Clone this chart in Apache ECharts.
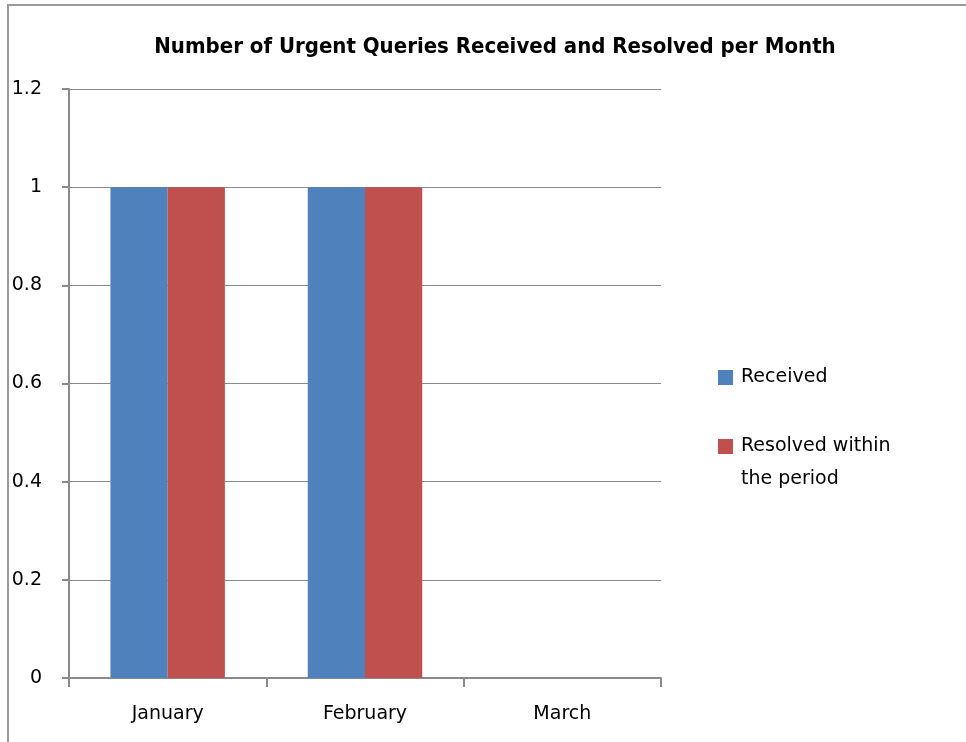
<!DOCTYPE html>
<html>
<head>
<meta charset="utf-8">
<script src="https://cdn.jsdelivr.net/npm/echarts@6/dist/echarts.min.js"></script>
<style>
  html, body { margin: 0; padding: 0; background: #fff; }
  #chart { width: 966px; height: 742px; }
</style>
</head>
<body>
<div id="chart"></div>
<script>
'use strict';

/*-----------------------------------------------
|   Data
-----------------------------------------------*/
const months = ['January', 'February', 'March'];
const received = [1, 1, 0];
const resolved = [1, 1, 0];
const seriesNames = ['Received', 'Resolved within the period'];

const chart = echarts.init(document.getElementById('chart'));
const labelFont = 'DejaVu Sans';
const axisGray = '#8a8a8a';

chart.setOption({
  animation: false,
  title: {
    text: 'Number of Urgent Queries Received and Resolved per Month',
    left: 490,
    textAlign: 'center',
    top: 31,
    textStyle: {
      fontFamily: '"DejaVu Sans Condensed", "Liberation Sans", sans-serif',
      fontWeight: 'bold',
      fontSize: 22,
      color: '#000'
    }
  },
  graphic: [
    // outer chart border (top and left edges only are visible)
    {
      type: 'polyline',
      shape: { points: [[8, 742], [8, 5], [966, 5]] },
      style: { stroke: '#9a9a9a', lineWidth: 2, fill: null }
    }
  ],
  legend: [
    {
      data: [{ name: seriesNames[0], textStyle: { padding: [0, 0, 0, 3] } }],
      left: 713,
      top: 363,
      icon: 'rect',
      itemWidth: 15,
      itemHeight: 15,
      textStyle: { fontFamily: labelFont, fontSize: 19, color: '#000' }
    },
    {
      data: [{ name: seriesNames[1], textStyle: { padding: [0, 0, 0, 3] } }],
      left: 713,
      top: 392,
      icon: 'rect',
      itemWidth: 15,
      itemHeight: 15,
      // blank first line keeps the first text line level with the icon
      formatter: () => ' \nResolved within\nthe period',
      textStyle: { fontFamily: labelFont, fontSize: 19, lineHeight: 33, color: '#000' }
    }
  ],
  grid: { left: 69, right: 305, top: 89, bottom: 64, containLabel: false },
  xAxis: {
    type: 'category',
    data: months,
    axisLine: { lineStyle: { color: axisGray, width: 2 } },
    axisTick: { show: true, length: 9, lineStyle: { color: axisGray, width: 2 } },
    axisLabel: { margin: 27, fontFamily: labelFont, fontSize: 19, color: '#000' }
  },
  yAxis: {
    type: 'value',
    min: 0,
    max: 1.2,
    interval: 0.2,
    axisLine: { show: true, lineStyle: { color: axisGray, width: 2 } },
    axisTick: { show: true, length: 7, lineStyle: { color: axisGray, width: 2 } },
    axisLabel: { margin: 27, fontFamily: labelFont, fontSize: 19, color: '#000' },
    splitLine: { lineStyle: { color: axisGray, width: 1 } }
  },
  series: [
    {
      name: seriesNames[0],
      type: 'bar',
      data: received,
      barGap: '0%',
      barCategoryGap: '42%',
      itemStyle: { color: '#4F81BD' }
    },
    {
      name: seriesNames[1],
      type: 'bar',
      data: resolved,
      barGap: '0%',
      barCategoryGap: '42%',
      itemStyle: { color: '#C0504D' }
    }
  ]
});
</script>
</body>
</html>
